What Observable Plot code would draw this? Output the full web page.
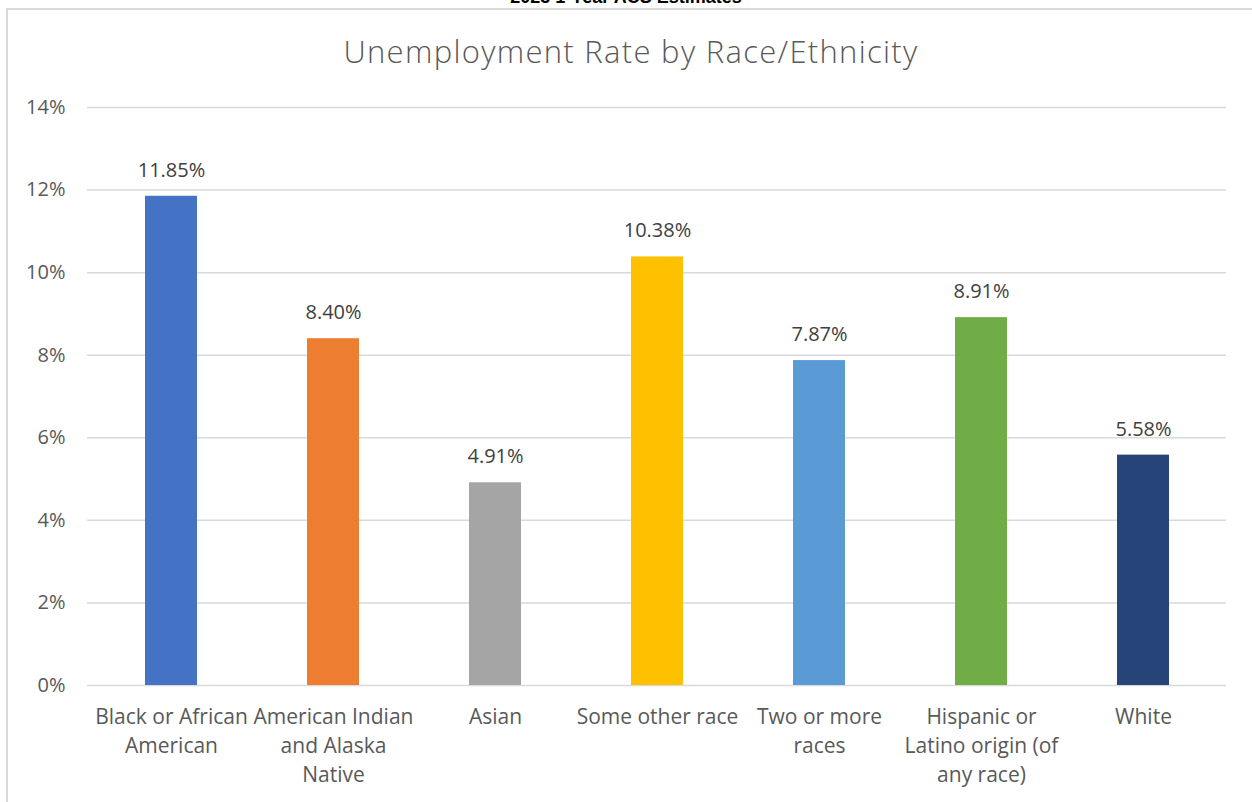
<!DOCTYPE html>
<html>
<head>
<meta charset="utf-8">
<script src="https://cdn.jsdelivr.net/npm/d3@7"></script>
<script src="https://cdn.jsdelivr.net/npm/@observablehq/plot@0.6"></script>
<style>
  html, body { margin: 0; padding: 0; background: #fff; overflow: hidden; }
  #wrap { position: relative; width: 1252px; height: 802px; }
  #frame { position: absolute; left: 6px; top: 8px; width: 1300px; height: 900px;
           border-left: 2px solid #d9d9d9; border-top: 2px solid #d9d9d9; box-sizing: border-box; }
  #sup { position: absolute; left: 0; width: 1252px; top: -13px; text-align: center;
         font-family: "Liberation Sans", Arial, sans-serif; font-weight: bold; font-size: 18px; color: #000; }
  #title { position: absolute; left: 0; width: 1262px; top: 30px; text-align: center;
           font-family: "Open Sans", sans-serif; font-weight: 300; font-size: 31px; letter-spacing: 1.3px; color: #595959; }
  #chart { position: absolute; left: 0; top: 0; }
</style>
</head>
<body>
<div id="wrap">
  <div id="frame"></div>
  <div id="sup">2023 1-Year ACS Estimates</div>
  <div id="title">Unemployment Rate by Race/Ethnicity</div>
  <div id="chart"></div>
</div>
<script>
const categories = ["Black or African American", "American Indian and Alaska Native", "Asian", "Some other race", "Two or more races", "Hispanic or Latino origin (of any race)", "White"];
const tickLabels = ["Black or African\nAmerican", "American Indian\nand Alaska\nNative", "Asian", "Some other race", "Two or more\nraces", "Hispanic or\nLatino origin (of\nany race)", "White"];
const rates = [11.85, 8.40, 4.91, 10.38, 7.87, 8.91, 5.58];
const colors = ["#4472C4", "#ED7D31", "#A5A5A5", "#FFC000", "#5B9BD5", "#70AD47", "#264478"];
const yTicks = [0, 2, 4, 6, 8, 10, 12, 14];

const data = categories.map((c, i) => ({category: c, rate: rates[i], label: tickLabels[i]}));

const plot = Plot.plot({
  width: 1252,
  height: 802,
  marginLeft: 87,
  marginRight: 26,
  marginTop: 107,
  marginBottom: 117,
  style: {fontFamily: "'Open Sans', sans-serif", color: "#595959", background: "transparent"},
  x: {domain: categories, paddingInner: 0.68, paddingOuter: 0.34, align: 0.5},
  y: {domain: [0, 14]},
  color: {domain: categories, range: colors},
  marks: [
    Plot.gridY(yTicks, {stroke: "#d9d9d9", strokeOpacity: 1, strokeWidth: 1.5}),
    Plot.barY(data, {x: "category", y: "rate", fill: "category"}),
    Plot.text(data, {x: "category", y: "rate", text: d => d.rate.toFixed(2) + "%", dy: -26, fontSize: 20, fill: "#404040"}),
    Plot.axisY(yTicks, {tickSize: 0, tickPadding: 22, tickFormat: d => d + "%", fontSize: 20, fill: "#595959", label: null}),
    Plot.axisX({tickSize: 0, tickPadding: 18, tickFormat: (d) => tickLabels[categories.indexOf(d)], fontSize: 21, lineHeight: 1.38, fill: "#595959", label: null})
  ]
});
document.getElementById("chart").appendChild(plot);
</script>
</body>
</html>
